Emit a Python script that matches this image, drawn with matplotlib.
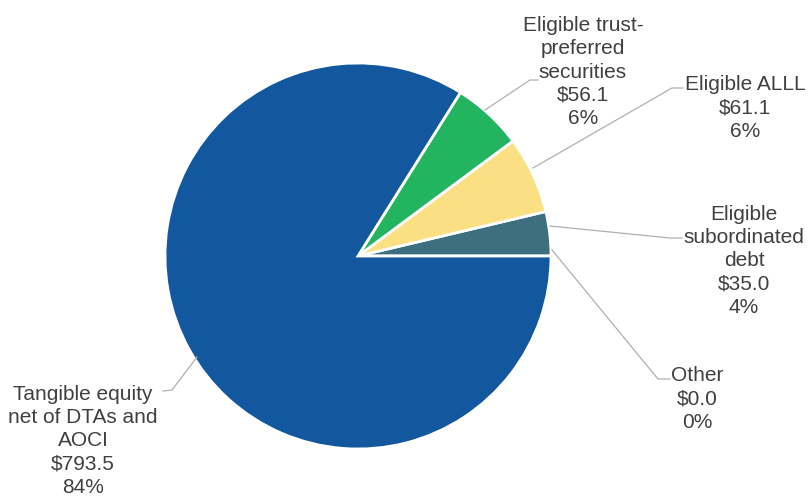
import matplotlib.pyplot as plt

plt.rcParams['font.family'] = ['Liberation Sans', 'DejaVu Sans']

# capital components, $ millions (counter-clockwise from 3 o'clock)
names = ["Other", "Eligible\nsubordinated\ndebt", "Eligible ALLL",
         "Eligible trust-\npreferred\nsecurities", "Tangible equity\nnet of DTAs and\nAOCI"]
values = [0.0, 35.0, 61.1, 56.1, 793.5]
colors = ["#1a5a9e", "#3e6f80", "#fbe083", "#22b45f", "#13579e"]

W, H = 809, 499
fig = plt.figure(figsize=(W / 100, H / 100), dpi=100)
ax = fig.add_axes([0, 0, 1, 1])
ax.axis('off')

cx, cy, r = 358, H - 256, 193
ax.pie(values, colors=colors, startangle=0, counterclock=True,
       center=(cx, cy), radius=r,
       wedgeprops=dict(edgecolor='white', linewidth=2))
ax.set_xlim(0, W)
ax.set_ylim(0, H)
ax.set_aspect('equal')

total = sum(values)
labels = [f"{n}\n${v:.1f}\n{v / total * 100:.0f}%" for n, v in zip(names, values)]

# label block centres and leader-line paths in pixel coords
text_pos = [(697, 399), (744, 261), (745, 108), (583, 72), (83, 441)]
leaders = [
    [(552, 250), (658, 379), (670, 379)],
    [(550, 226), (670, 238), (682, 238)],
    [(533, 168), (672, 88), (683, 88)],
    [(485, 110), (530, 80), (538, 80)],
    [(197, 357), (172, 390), (163, 391)],
]

for lab, (tx, ty), path in zip(labels, text_pos, leaders):
    ax.text(tx, H - ty, lab, ha='center', va='center', fontsize=15,
            color='#404040', linespacing=1.29)
    xs = [p[0] for p in path]
    ys = [H - p[1] for p in path]
    ax.plot(xs, ys, color='#b0b0b0', lw=0.9)

fig.savefig("out.png", dpi=100)
